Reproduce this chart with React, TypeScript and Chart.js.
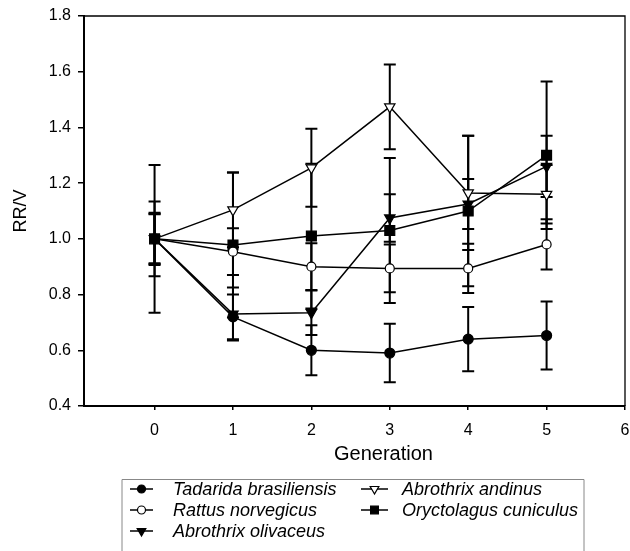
import React, { useEffect, useRef } from 'react';
import { Chart, registerables } from 'chart.js';

Chart.register(...registerables);

// ---------- data ----------
const generations = [0, 1, 2, 3, 4, 5];
const xTicks = [0, 1, 2, 3, 4, 5, 6];
const yTicks = [0.4, 0.6, 0.8, 1.0, 1.2, 1.4, 1.6, 1.8];

const seriesNames = [
  'Tadarida brasiliensis',
  'Rattus norvegicus',
  'Abrothrix olivaceus',
  'Abrothrix andinus',
  'Oryctolagus cuniculus',
];

const tadarida = [1.0, 0.72, 0.6, 0.59, 0.64, 0.653];
const tadaridaErr = [0.094, 0.08, 0.09, 0.105, 0.115, 0.122];
const rattus = [1.0, 0.954, 0.9, 0.894, 0.894, 0.98];
const rattusErr = [0.088, 0.084, 0.084, 0.086, 0.088, 0.09];
const olivaceus = [1.0, 0.73, 0.735, 1.075, 1.125, 1.26];
const olivaceusErr = [0.09, 0.095, 0.08, 0.085, 0.09, 0.11];
const andinus = [1.0, 1.104, 1.255, 1.474, 1.165, 1.16];
const andinusErr = [0.134, 0.134, 0.14, 0.152, 0.205, 0.105];
const oryctolagus = [1.0, 0.978, 1.01, 1.03, 1.1, 1.3];
const oryctolagusErr = [0.265, 0.26, 0.26, 0.26, 0.27, 0.265];

const xTitle = 'Generation';
const yTitle = 'RR/V';

// ---------- styles ----------
const FONT = '"Liberation Sans", Arial, sans-serif';

type Marker = { style: string; filled: boolean; rotation: number; radius: number; legendRadius: number };
const markers: Marker[] = [
  { style: 'circle', filled: true, rotation: 0, radius: 5, legendRadius: 4 },
  { style: 'circle', filled: false, rotation: 0, radius: 4.5, legendRadius: 4 },
  { style: 'triangle', filled: true, rotation: 180, radius: 6, legendRadius: 5 },
  { style: 'triangle', filled: false, rotation: 180, radius: 6, legendRadius: 5 },
  { style: 'rect', filled: true, rotation: 0, radius: 7, legendRadius: 5.5 },
];

const values = [tadarida, rattus, olivaceus, andinus, oryctolagus];
const errors = [tadaridaErr, rattusErr, olivaceusErr, andinusErr, oryctolagusErr];

function drawMarker(ctx: CanvasRenderingContext2D, m: Marker, x: number, y: number, r: number) {
  ctx.beginPath();
  if (m.style === 'circle') {
    ctx.arc(x, y, r, 0, Math.PI * 2);
  } else if (m.style === 'rect') {
    const s = Math.SQRT1_2 * r;
    ctx.rect(x - s, y - s, 2 * s, 2 * s);
  } else {
    let rad = (m.rotation * Math.PI) / 180;
    ctx.moveTo(x + Math.sin(rad) * r, y - Math.cos(rad) * r);
    rad += (2 * Math.PI) / 3;
    ctx.lineTo(x + Math.sin(rad) * r, y - Math.cos(rad) * r);
    rad += (2 * Math.PI) / 3;
    ctx.lineTo(x + Math.sin(rad) * r, y - Math.cos(rad) * r);
    ctx.closePath();
  }
  ctx.fillStyle = m.filled ? '#000' : '#fff';
  ctx.fill();
  ctx.strokeStyle = '#000';
  ctx.lineWidth = 1.2;
  ctx.stroke();
}

const errorBarPlugin = {
  id: 'errorBars',
  beforeDatasetsDraw(chart: any) {
    const { ctx, scales } = chart;
    const xs = scales.x;
    const ys = scales.y;
    ctx.save();
    ctx.strokeStyle = '#000';
    ctx.lineWidth = 2;
    chart.data.datasets.forEach((ds: any) => {
      ds.data.forEach((p: any, i: number) => {
        const e = ds.errors[i];
        const px = xs.getPixelForValue(p.x);
        const yt = ys.getPixelForValue(p.y + e);
        const yb = ys.getPixelForValue(p.y - e);
        ctx.beginPath();
        ctx.moveTo(px, yt);
        ctx.lineTo(px, yb);
        ctx.moveTo(px - 6, yt);
        ctx.lineTo(px + 6, yt);
        ctx.moveTo(px - 6, yb);
        ctx.lineTo(px + 6, yb);
        ctx.stroke();
      });
    });
    ctx.restore();
  },
};

const framePlugin = {
  id: 'frame',
  afterDraw(chart: any) {
    const { ctx, chartArea } = chart;
    ctx.save();
    ctx.strokeStyle = '#000';
    ctx.lineWidth = 1.3;
    ctx.beginPath();
    ctx.moveTo(chartArea.left, chartArea.top);
    ctx.lineTo(chartArea.right, chartArea.top);
    ctx.lineTo(chartArea.right, chartArea.bottom);
    ctx.stroke();

    // x-axis title
    const xs = chart.scales.x;
    ctx.fillStyle = '#000';
    ctx.font = `20px ${FONT}`;
    ctx.textAlign = 'center';
    ctx.textBaseline = 'alphabetic';
    ctx.fillText(xTitle, xs.getPixelForValue(2.92), chartArea.bottom + 54);

    // legend box
    const lx = 122;
    const ly = 479.5;
    const lr = 584;
    ctx.strokeStyle = '#888';
    ctx.lineWidth = 1;
    ctx.beginPath();
    ctx.moveTo(lx, chart.height + 5);
    ctx.lineTo(lx, ly);
    ctx.lineTo(lr, ly);
    ctx.lineTo(lr, chart.height + 5);
    ctx.stroke();

    const cols = [
      { lineStart: 130, lineEnd: 153, textX: 173 },
      { lineStart: 361, lineEnd: 388, textX: 402 },
    ];
    const rows = [489, 510, 531];
    ctx.font = `italic 18px ${FONT}`;
    ctx.textAlign = 'left';
    ctx.textBaseline = 'middle';
    seriesNames.forEach((name, i) => {
      const c = cols[Math.floor(i / 3)];
      const y = rows[i % 3];
      ctx.strokeStyle = '#000';
      ctx.lineWidth = 1.5;
      ctx.beginPath();
      ctx.moveTo(c.lineStart, y);
      ctx.lineTo(c.lineEnd, y);
      ctx.stroke();
      drawMarker(ctx, markers[i], (c.lineStart + c.lineEnd) / 2, y, markers[i].legendRadius);
      ctx.fillStyle = '#000';
      ctx.fillText(name, c.textX, y + 1);
    });
    ctx.restore();
  },
};

export default function App() {
  const ref = useRef<HTMLCanvasElement | null>(null);

  useEffect(() => {
    if (!ref.current) return;
    const datasets = seriesNames.map((name, i) => ({
      label: name,
      data: generations.map((g, j) => ({ x: g, y: values[i][j] })),
      errors: errors[i],
      borderColor: '#000',
      borderWidth: 1.5,
      backgroundColor: markers[i].filled ? '#000' : '#fff',
      pointBackgroundColor: markers[i].filled ? '#000' : '#fff',
      pointBorderColor: '#000',
      pointBorderWidth: 1.2,
      pointStyle: markers[i].style,
      pointRotation: markers[i].rotation,
      pointRadius: markers[i].radius,
      tension: 0,
      fill: false,
    }));

    const chart = new Chart(ref.current, {
      type: 'line',
      data: { datasets } as any,
      options: {
        responsive: false,
        animation: false,
        events: [],
        layout: { padding: { top: 16, right: 5, left: 0, bottom: 0 }, autoPadding: false } as any,
        plugins: { legend: { display: false }, tooltip: { enabled: false } },
        scales: {
          x: {
            type: 'linear',
            min: -0.9,
            max: 6,
            afterBuildTicks: (s: any) => {
              s.ticks = xTicks.map((v) => ({ value: v }));
            },
            afterFit: (s: any) => {
              s.height = 145;
              s.paddingLeft = 0;
              s.paddingRight = 0;
            },
            grid: { drawOnChartArea: false, drawTicks: true, tickLength: 4, color: '#000', lineWidth: 1.5 },
            border: { display: true, color: '#000', width: 2 },
            ticks: {
              color: '#000',
              font: { family: FONT, size: 16 },
              padding: 11,
              maxRotation: 0,
              autoSkip: false,
              callback: (v: any) => String(v),
            },
          },
          y: {
            type: 'linear',
            min: 0.4,
            max: 1.8,
            afterBuildTicks: (s: any) => {
              s.ticks = yTicks.map((v) => ({ value: v }));
            },
            afterFit: (s: any) => {
              s.width = 84;
              s.paddingTop = 0;
              s.paddingBottom = 0;
            },
            grid: { drawOnChartArea: false, drawTicks: true, tickLength: 6, color: '#000', lineWidth: 1.5 },
            border: { display: true, color: '#000', width: 2 },
            ticks: {
              color: '#000',
              font: { family: FONT, size: 16 },
              padding: 7,
              autoSkip: false,
              callback: (v: any) => Number(v).toFixed(1),
            },
            title: {
              display: true,
              text: yTitle,
              color: '#000',
              font: { family: FONT, size: 18 },
              padding: { top: 10, bottom: 0 },
            },
          },
        },
      },
      plugins: [errorBarPlugin, framePlugin],
    } as any);
    return () => chart.destroy();
  }, []);

  return (
    <div style={{ position: 'absolute', left: 0, top: 0, width: 630, height: 551, background: '#fff' }}>
      <canvas ref={ref} width={630} height={551} style={{ display: 'block' }} />
    </div>
  );
}
